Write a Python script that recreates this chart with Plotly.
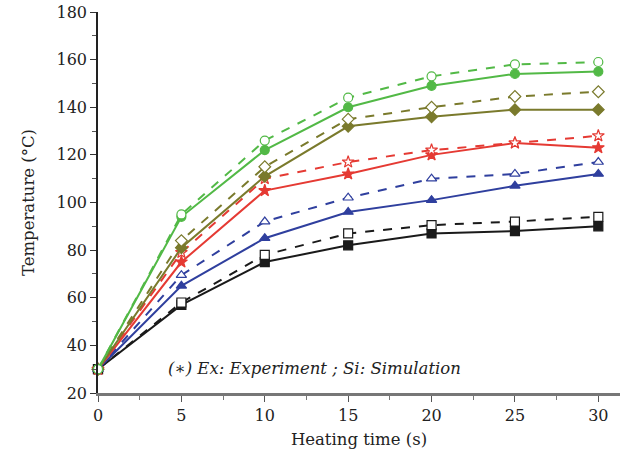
import plotly.graph_objects as go

time_s = [0, 5, 10, 15, 20, 25, 30]

ex_black = [30, 57, 75, 82, 87, 88, 90]
si_black = [30, 58, 78, 87, 90.5, 92, 94]
ex_blue = [30, 65, 85, 96, 101, 107, 112]
si_blue = [30, 69.5, 92, 102, 110, 112, 117]
ex_red = [30, 75, 105, 112, 120, 125, 123]
si_red = [30, 79, 110, 117, 122, 125, 128]
ex_olive = [30, 81, 111, 132, 136, 139, 139]
si_olive = [30, 84, 115, 135, 140, 144.5, 146.5]
ex_green = [30, 94, 122, 140, 149, 154, 155]
si_green = [30, 95, 126, 144, 153, 158, 159]

series = [
    ("Ex black", ex_black, "#1a1a1a", "square", False),
    ("Si black", si_black, "#1a1a1a", "square", True),
    ("Ex blue", ex_blue, "#2f3f9e", "triangle-up", False),
    ("Si blue", si_blue, "#2f3f9e", "triangle-up", True),
    ("Ex red", ex_red, "#e53a33", "star", False),
    ("Si red", si_red, "#e53a33", "star", True),
    ("Ex olive", ex_olive, "#7a7a2c", "diamond", False),
    ("Si olive", si_olive, "#7a7a2c", "diamond", True),
    ("Ex green", ex_green, "#52b946", "circle", False),
    ("Si green", si_green, "#52b946", "circle", True),
]

fig = go.Figure()
for name, ys, col, sym, sim in series:
    fig.add_trace(go.Scatter(
        x=time_s, y=ys, name=name, mode="lines+markers",
        line=dict(color=col, width=2, dash="dash" if sim else "solid"),
        marker=dict(symbol=sym, size=9,
                    color="white" if sim else col,
                    line=dict(color=col, width=1.2)),
        cliponaxis=False, showlegend=False,
    ))

serif = "DejaVu Serif"

fig.add_annotation(
    x=4.1, y=30.5, xref="x", yref="y", xanchor="left", yanchor="middle",
    text="<i>(∗) Ex: Experiment ; Si: Simulation</i>", showarrow=False,
    font=dict(family=serif, size=16.5, color="#222222"),
)

fig.update_layout(
    width=620, height=457,
    margin=dict(l=98, r=0, t=12, b=64),
    paper_bgcolor="white", plot_bgcolor="white",
    font=dict(family=serif, size=16, color="#222222"),
    xaxis=dict(
        range=[0, 31.3], tickvals=[0, 5, 10, 15, 20, 25, 30],
        showgrid=False, zeroline=False,
        showline=True, linecolor="#777777", linewidth=2.5,
        ticks="outside", ticklen=6, tickcolor="#555555", tickwidth=1,
        minor=dict(tickvals=[2.5, 7.5, 12.5, 17.5, 22.5, 27.5], ticks="outside",
                   ticklen=4, tickcolor="#777777"),
        title=dict(text="Heating time (s)", font=dict(family=serif, size=16.5), standoff=10),
        tickfont=dict(family=serif, size=16),
    ),
    yaxis=dict(
        range=[20, 180], tickvals=[20, 40, 60, 80, 100, 120, 140, 160, 180],
        showgrid=False, zeroline=False,
        showline=True, linecolor="#222222", linewidth=1.5,
        ticks="outside", ticklen=6, tickcolor="#333333", tickwidth=1,
        minor=dict(tickvals=[30, 50, 70, 90, 110, 130, 150, 170], ticks="outside",
                   ticklen=4, tickcolor="#555555"),
        title=dict(text="Temperature (°C)", font=dict(family=serif, size=16.5), standoff=18),
        tickfont=dict(family=serif, size=16),
    ),
)

fig.write_html("out.html")
